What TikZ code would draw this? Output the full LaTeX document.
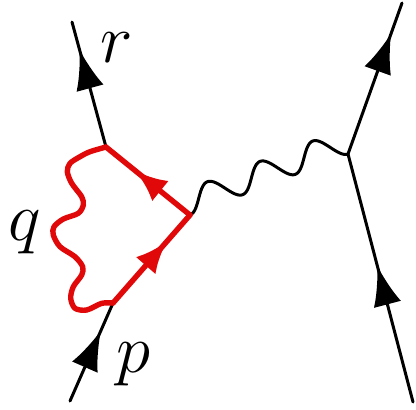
\documentclass[tikz,border=0pt]{standalone}
\usetikzlibrary{arrows.meta,calc,decorations.markings}
\definecolor{loopred}{RGB}{224,8,8}

\tikzset{
  fermion/.style={line width=0.75pt,
    decoration={markings, mark=at position #1 with {\arrow{Latex[length=10pt,width=7pt]}}},
    postaction={decorate}},
  loopfermion/.style={loopred, line width=1.35pt, line join=round,
    decoration={markings, mark=at position #1 with {\arrow{Latex[length=8pt,width=6.5pt]}}},
    postaction={decorate}},
  photon/.style={line width=0.75pt, line join=round},
  loopphoton/.style={loopred, line width=1.35pt, line join=round},
  momlabel/.style={font=\fontsize{16.5}{19}\selectfont, inner sep=0pt}
}

\begin{document}
\begin{tikzpicture}[x=0.25pt, y=-0.25pt, line cap=round]
  \useasboundingbox (0,0) rectangle (416,409);

  %% vertices and free ends
  \coordinate (rend) at (72,22);
  \coordinate (v1)   at (106,147);
  \coordinate (v2)   at (190,215);
  \coordinate (v4)   at (113,303);
  \coordinate (pend) at (70,401);
  \coordinate (v3)   at (348,154);
  \coordinate (tend) at (402,3);
  \coordinate (bend) at (413,402);

  %% external lines
  \draw[fermion=0.78] (v1) -- (rend);
  \draw[fermion=0.72] (pend) -- (v4);
  \draw[fermion=0.55] (bend) -- (v3);
  \draw[fermion=0.80] (v3) -- (tend);

  %% exchanged photon
  \draw[photon] (v2) \foreach \i in {1,...,159} {
    -- ($(v2)!{\i/160}!(v3)!{(1-cos(6.75*\i))*3.1pt}!90:(v3)$) } -- (v3);

  %% vertex correction (red)
  \draw[loopfermion=0.70] (v4) -- (v2);
  \draw[loopfermion=0.65] (v2) -- (v1);
  \draw[loopphoton] plot[smooth] coordinates {(v1) (90,151.7) (80,156.7) (70,163.3)
    (67.3,171.7) (71.7,183.3) (81.7,196.7) (83.3,205) (78.3,213.3) (63.3,219)
    (54,226.7) (53.3,235) (60,246.7) (75,256.7) (82.7,266.7) (81.7,275)
    (73.3,286.7) (70.7,298.3) (75,308.3) (86.7,310) (101.7,303.3) (v4)};

  %% momentum labels
  \node[momlabel] (rlbl) at (117,48)  {$r$};
  \node[momlabel] (qlbl) at (25,232)  {$q$};
  \node[momlabel] (plbl) at (133,364) {$p$};
\end{tikzpicture}
\end{document}
